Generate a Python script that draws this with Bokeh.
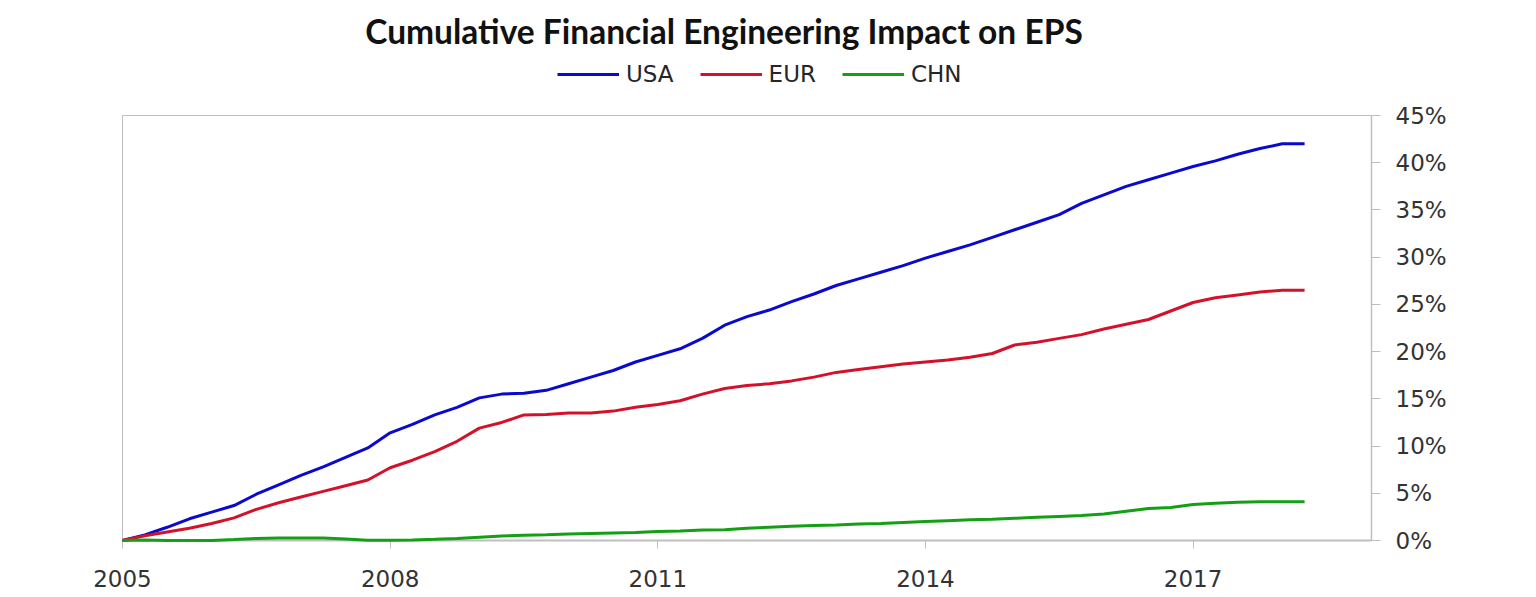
from bokeh.plotting import figure
from bokeh.layouts import column
from bokeh.models import (Range1d, FixedTicker, PrintfTickFormatter, Label, Legend, LegendItem)
from bokeh.embed import file_html
from bokeh.resources import INLINE

# ---- data (percent) ----
quarters = [2005.00, 2005.25, 2005.50, 2005.75, 2006.00, 2006.25, 2006.50, 2006.75,
            2007.00, 2007.25, 2007.50, 2007.75, 2008.00, 2008.25, 2008.50, 2008.75,
            2009.00, 2009.25, 2009.50, 2009.75, 2010.00, 2010.25, 2010.50, 2010.75,
            2011.00, 2011.25, 2011.50, 2011.75, 2012.00, 2012.25, 2012.50, 2012.75,
            2013.00, 2013.25, 2013.50, 2013.75, 2014.00, 2014.25, 2014.50, 2014.75,
            2015.00, 2015.25, 2015.50, 2015.75, 2016.00, 2016.25, 2016.50, 2016.75,
            2017.00, 2017.25, 2017.50, 2017.75, 2018.00, 2018.25]

usa = [0.0, 0.6, 1.4, 2.3, 3.0, 3.7, 4.9, 5.9,
       6.9, 7.8, 8.8, 9.8, 11.4, 12.3, 13.3, 14.1,
       15.1, 15.5, 15.6, 15.9, 16.6, 17.3, 18.0, 18.9,
       19.6, 20.3, 21.4, 22.8, 23.7, 24.4, 25.3, 26.1,
       27.0, 27.7, 28.4, 29.1, 29.9, 30.6, 31.3, 32.1,
       32.9, 33.7, 34.5, 35.7, 36.6, 37.5, 38.2, 38.9,
       39.6, 40.2, 40.9, 41.5, 42.0, 42.0]

eur = [0.0, 0.5, 0.9, 1.3, 1.8, 2.4, 3.3, 4.0,
       4.6, 5.2, 5.8, 6.4, 7.7, 8.5, 9.4, 10.5,
       11.9, 12.5, 13.3, 13.35, 13.5, 13.5, 13.7, 14.1,
       14.4, 14.8, 15.5, 16.1, 16.4, 16.6, 16.9, 17.3,
       17.8, 18.1, 18.4, 18.7, 18.9, 19.1, 19.4, 19.8,
       20.7, 21.0, 21.4, 21.8, 22.4, 22.9, 23.4, 24.3,
       25.2, 25.7, 26.0, 26.3, 26.5, 26.5]

chn = [0.0, 0.05, 0.0, 0.0, 0.0, 0.1, 0.22, 0.27,
       0.27, 0.27, 0.15, 0.02, 0.02, 0.05, 0.12, 0.2,
       0.35, 0.47, 0.55, 0.62, 0.7, 0.75, 0.8, 0.85,
       0.95, 1.0, 1.1, 1.15, 1.3, 1.4, 1.5, 1.6,
       1.65, 1.75, 1.8, 1.9, 2.0, 2.1, 2.2, 2.25,
       2.35, 2.45, 2.55, 2.65, 2.8, 3.1, 3.4, 3.5,
       3.8, 3.95, 4.05, 4.1, 4.1, 4.1]

series_names = ["USA", "EUR", "CHN"]
x_tick_values = [2005, 2008, 2011, 2014, 2017]
x_tick_labels = ["2005", "2008", "2011", "2014", "2017"]
y_tick_values = [0, 5, 10, 15, 20, 25, 30, 35, 40, 45]
title_text = "Cumulative Financial Engineering Impact on EPS"

colors = ["#0A0ACF", "#D4112B", "#14A014"]
AX = "#BFBFBF"
TXT = "#333333"
FONT = "DejaVu Sans"

LEFT, RIGHT, BOTTOM, TOP = 122, 150, 55, 14
FW, FH = 1249, 425
HEAD_H = 101

# ---- header (title + legend) ----
head = figure(frame_width=FW, frame_height=HEAD_H,
              min_border_left=LEFT, min_border_right=RIGHT, min_border_top=0, min_border_bottom=0,
              x_range=Range1d(LEFT, LEFT + FW), y_range=Range1d(HEAD_H, 0),
              output_backend="svg", toolbar_location=None)
head.axis.visible = False
head.grid.visible = False
head.outline_line_color = None

# legend swatches reuse the series (their data lies outside this header's ranges)
head_items = []
for name, vals, c in zip(series_names, [usa, eur, chn], colors):
    r = head.line(quarters, vals, line_color=c, line_width=3)
    head_items.append(LegendItem(label=name, renderers=[r]))

legend = Legend(items=head_items, orientation="horizontal", location=(435, 14),
                glyph_width=62, glyph_height=20, label_standoff=7, spacing=26,
                padding=0, margin=0, border_line_color=None,
                background_fill_alpha=0,
                label_text_font=FONT, label_text_font_size="23px",
                label_text_color="#262626")
head.add_layout(legend)

title = Label(x=723.5, y=30, text=title_text,
              text_align="center", text_baseline="alphabetic",
              text_font="Lato", text_font_style="bold", text_font_size="33.5px",
              text_color="#111111")
head.add_layout(title)

# ---- main chart ----
p = figure(frame_width=FW, frame_height=FH,
           min_border_left=LEFT, min_border_right=RIGHT, min_border_top=TOP, min_border_bottom=BOTTOM,
           x_range=Range1d(2005, 2019), y_range=Range1d(0, 45),
           y_axis_location="right",
           output_backend="svg", toolbar_location=None)

p.xgrid.visible = False
p.ygrid.visible = False
p.outline_line_color = AX
p.outline_line_width = 1

xa = p.xaxis[0]
xa.ticker = FixedTicker(ticks=x_tick_values)
xa.major_label_overrides = {v: l for v, l in zip(x_tick_values, x_tick_labels)}
xa.axis_line_color = AX
xa.axis_line_width = 2
xa.major_tick_line_color = AX
xa.major_tick_in = 0
xa.major_tick_out = 8
xa.minor_tick_line_color = None
xa.major_label_text_font = FONT
xa.major_label_text_font_size = "23px"
xa.major_label_text_color = TXT
xa.major_label_standoff = 21

ya = p.yaxis[0]
ya.ticker = FixedTicker(ticks=y_tick_values)
ya.formatter = PrintfTickFormatter(format="%d%%")
ya.axis_line_color = AX
ya.axis_line_width = 1.5
ya.major_tick_line_color = AX
ya.major_tick_in = 0
ya.major_tick_out = 9
ya.minor_tick_line_color = None
ya.major_label_text_font = FONT
ya.major_label_text_font_size = "23px"
ya.major_label_text_color = TXT
ya.major_label_standoff = 15

for name, vals, c in zip(series_names, [usa, eur, chn], colors):
    p.line(quarters, vals, line_color=c, line_width=3, level="overlay")

layout = column(head, p, spacing=0)
open("out.html", "w").write(file_html(layout, INLINE))
